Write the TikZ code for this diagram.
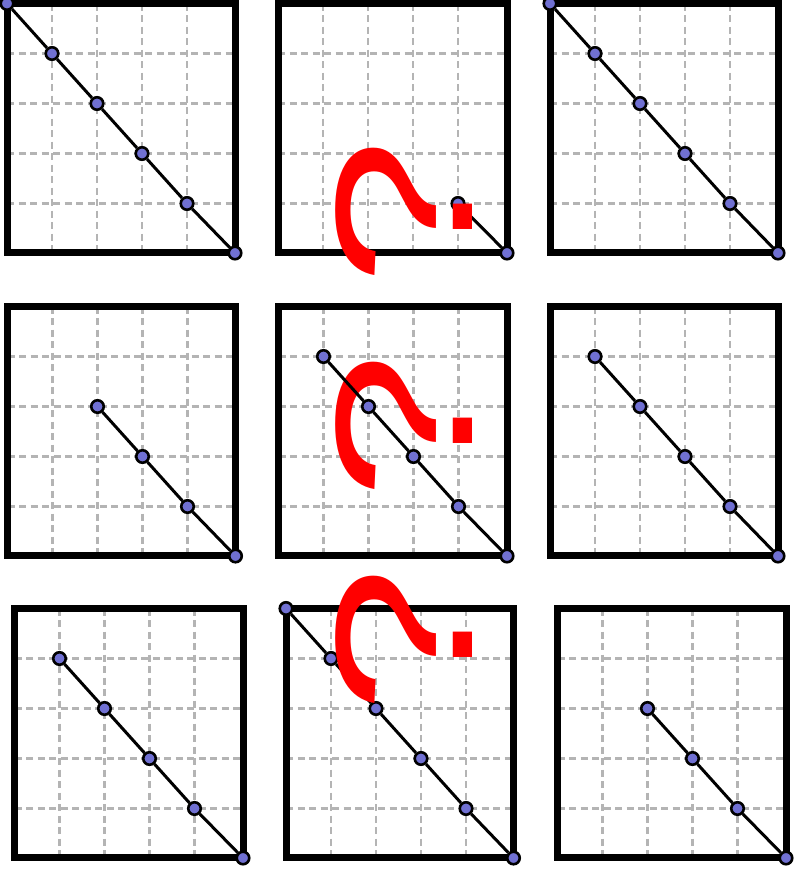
\documentclass[tikz,border=0pt]{standalone}
\usepackage{fontspec}
\usepackage{graphicx}
\newfontfamily\qfont{Liberation Sans}
\definecolor{dotblue}{RGB}{112,112,210}
\definecolor{gridgray}{RGB}{180,180,180}
\newcommand\panelbg[5]{%
  \foreach \i in {1,...,4} {
    \draw[gridline,#5] ({#1+45*\i},#2) -- ({#1+45*\i},#4);
    \draw[gridline] (#1,{#2+50*\i}) -- (#3,{#2+50*\i});
  }
  \draw[frame] (#1,#2) rectangle (#3,#4);
}
\newcommand\paneldots[6]{%
  \foreach \k in {#6,...,4} { \node[pt] (#1-\k) at ({#2+45*\k},{#3+50*\k}) {}; }
  \node[pt] (#1-5) at (#4,#5) {};
  \foreach \k in {#6,...,4} {
    \pgfmathtruncatemacro\nx{\k+1}
    \draw[diag] (#1-\k) -- (#1-\nx);
  }
}
\begin{document}
\begin{tikzpicture}[x=1pt,y=-1pt,
  gridline/.style={gridgray, line width=2.6pt, dash pattern=on 7pt off 4.5pt},
  frame/.style={line width=7pt, line join=miter},
  diag/.style={line width=3pt},
  pt/.style={circle, draw=black, fill=dotblue, line width=2.6pt, minimum size=12.5pt, inner sep=0pt},
  qmark/.style={red, rotate=90, anchor=base, inner sep=0pt, font=\qfont\fontsize{196}{200}\selectfont}]
\useasboundingbox (0,0) rectangle (794,876);
% backgrounds
\panelbg{7}{3.5}{235}{252.5}{}
\panelbg{278}{3.5}{507}{252.5}{}
\panelbg{550}{3.5}{778}{252.5}{}
\panelbg{7.5}{306.5}{235.5}{555.5}{}
\panelbg{278.5}{306.5}{507}{555.5}{line width=3.8pt}
\panelbg{550}{306.5}{778}{555.5}{}
\panelbg{14.5}{608.5}{243}{857.5}{}
\panelbg{286}{608.5}{513.5}{857.5}{}
\panelbg{557.5}{608.5}{786}{857.5}{}
% lines and dots
\paneldots{a}{7}{3.5}{235}{253}{0}
\paneldots{b}{278}{3.5}{507}{253}{4}
\paneldots{c}{550}{3.5}{778}{253}{0}
\paneldots{d}{7.5}{306.5}{235.5}{556}{2}
\paneldots{f}{550}{306.5}{778}{556}{1}
\paneldots{g}{14.5}{608.5}{243}{858}{1}
\paneldots{h}{286}{608.5}{513.5}{858}{0}
\paneldots{i}{557.5}{608.5}{786}{858}{2}
% question marks
\node[qmark] (q1) at (472,212) {\scalebox{1.36}[1]{?}};
\node[qmark] (q2) at (472,426) {\scalebox{1.36}[1]{?}};
\node[qmark] (q3) at (472,640) {\scalebox{1.36}[1]{?}};
% middle panel line drawn over the question mark
\paneldots{e}{278.5}{306.5}{507}{556}{1}
\end{tikzpicture}
\end{document}
